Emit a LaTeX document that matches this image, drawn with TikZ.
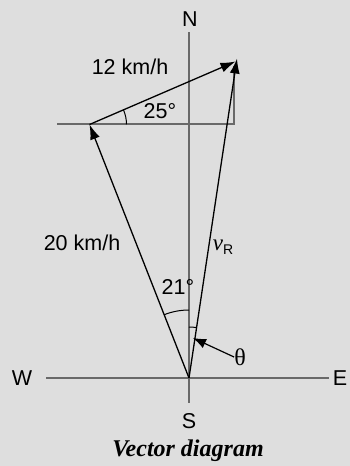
\documentclass[tikz,border=0pt]{standalone}
\usepackage{fontspec}
\setmainfont{Liberation Sans}
\newfontfamily\serifface{Liberation Serif}
\usetikzlibrary{arrows.meta,angles}
\definecolor{bgc}{RGB}{222,222,222}
\definecolor{axc}{RGB}{105,105,105}
\begin{document}
\begin{tikzpicture}[x=1pt,y=-1pt,
  axis/.style={draw=axc,line width=1.5pt},
  vec/.style={draw=black,line width=1.3pt,-{Latex[length=15pt,width=10pt]}},
  lbl/.style={inner sep=0pt,font=\fontsize{21.5}{25}\selectfont},
  arcs/.style={draw=black,line width=1pt}]
\fill[bgc] (0,0) rectangle (350,466);
\useasboundingbox (0,0) rectangle (350,466);
% coordinates
\coordinate (O) at (189,378);
\coordinate (Ntop) at (189,32);
\coordinate (Sbot) at (189,403);
\coordinate (Wend) at (46,378);
\coordinate (Eend) at (329,378);
\coordinate (A) at (89.5,124.5);
\coordinate (B) at (237,58.5);
\coordinate (B2) at (235.5,61.5);
\coordinate (Hl) at (57,124);
\coordinate (Hr) at (234,124);
\coordinate (Vt) at (234,66);
\coordinate (Tt) at (193,338);
% axes
\draw[axis] (Ntop) -- (Sbot);
\draw[axis] (Wend) -- (Eend);
\draw[axis,line width=1.3pt] (Hl) -- (Hr) -- (Vt);
% labels
\node[lbl] (N) at (190,19) {N};
\node[lbl] (S) at (189,421) {S};
\node[lbl] (W) at (22,378) {W};
\node[lbl] (E) at (340,378) {E};
\node[lbl] (k12) at (130,67) {12 km/h};
\node[lbl] (k20) at (82,243) {20 km/h};
\node[lbl] (a25) at (160,111) {25°};
\node[lbl] (a21) at (178,287) {21°};
\node[lbl] (vR) at (223,247) {\fontsize{23}{26}\selectfont\serifface\itshape v\raisebox{-4pt}{\fontsize{14}{16}\selectfont\rmfamily\upshape R}};
\node[lbl] (th) at (240,357) {\fontsize{24}{28}\selectfont\serifface θ};
\node[inner sep=0pt,font=\fontsize{24}{28}\selectfont\serifface\bfseries\itshape] (cap) at (188,451) {Vector diagram};
% vectors
\draw[vec] (O) -- (A);
\draw[vec] (A) -- (B2);
\draw[vec] (O) -- (B);
\draw[vec,line width=1.2pt,-{Latex[length=13pt,width=10pt]}] (th.west) -- (Tt);
% angle arcs
\pic[arcs,angle radius=37pt] {angle = Hr--A--B2};
\pic[arcs,angle radius=68pt] {angle = Ntop--O--A};
\pic[arcs,angle radius=51pt] {angle = B--O--Ntop};
\end{tikzpicture}
\end{document}
